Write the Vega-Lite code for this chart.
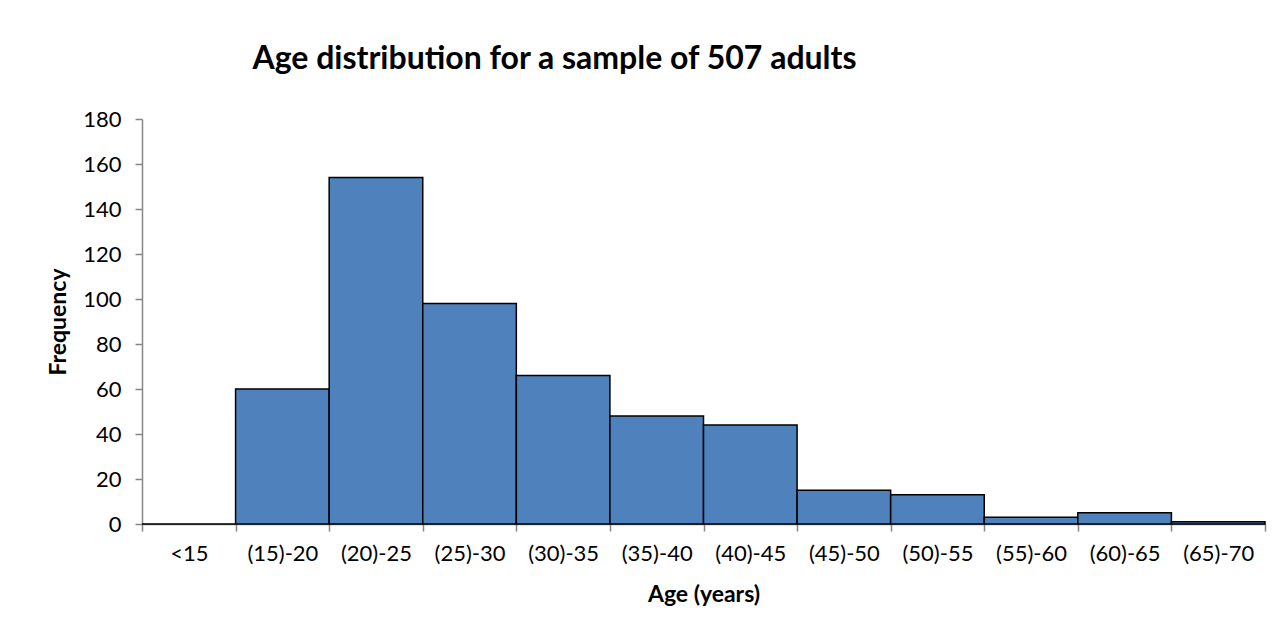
{
  "$schema": "https://vega.github.io/schema/vega-lite/v6.json",
  "width": 1123,
  "height": 405,
  "autosize": {"type": "none"},
  "padding": {"left": 142, "top": 119, "right": 12, "bottom": 108},
  "background": "white",
  "config": {
    "font": "Lato",
    "view": {"stroke": null},
    "axis": {"labelFont": "Lato", "titleFont": "Lato", "labelColor": "black", "titleColor": "black", "grid": false, "domainColor": "#868686", "tickColor": "#868686", "tickSize": 7, "domainWidth": 1.5, "tickWidth": 1.5}
  },
  "title": {
    "text": "Age distribution for a sample of 507 adults",
    "font": "Lato",
    "fontSize": 32,
    "fontWeight": "bold",
    "color": "black",
    "anchor": "middle",
    "dx": -149,
    "offset": 32
  },
  "data": {
    "values": [
      {"age": "<15", "freq": 0},
      {"age": "(15)-20", "freq": 60},
      {"age": "(20)-25", "freq": 154},
      {"age": "(25)-30", "freq": 98},
      {"age": "(30)-35", "freq": 66},
      {"age": "(35)-40", "freq": 48},
      {"age": "(40)-45", "freq": 44},
      {"age": "(45)-50", "freq": 15},
      {"age": "(50)-55", "freq": 13},
      {"age": "(55)-60", "freq": 3},
      {"age": "(60)-65", "freq": 5},
      {"age": "(65)-70", "freq": 1}
    ]
  },
  "mark": {"type": "bar", "fill": "#4F81BD", "stroke": "black", "strokeWidth": 1.5},
  "encoding": {
    "x": {
      "field": "age",
      "type": "ordinal",
      "sort": null,
      "scale": {"paddingInner": 0, "paddingOuter": 0},
      "axis": {
        "title": "Age (years)",
        "titleFontSize": 23,
        "titleFontWeight": "bold",
        "titlePadding": 19,
        "labelFontSize": 22,
        "labelAngle": 0,
        "labelPadding": 12,
        "tickBand": "extent"
      }
    },
    "y": {
      "field": "freq",
      "type": "quantitative",
      "scale": {"domain": [0, 180]},
      "axis": {
        "title": "Frequency",
        "titleFontSize": 23,
        "titleFontWeight": "bold",
        "titlePadding": 12,
        "labelFontSize": 22,
        "labelPadding": 14,
        "values": [0, 20, 40, 60, 80, 100, 120, 140, 160, 180]
      }
    }
  }
}
